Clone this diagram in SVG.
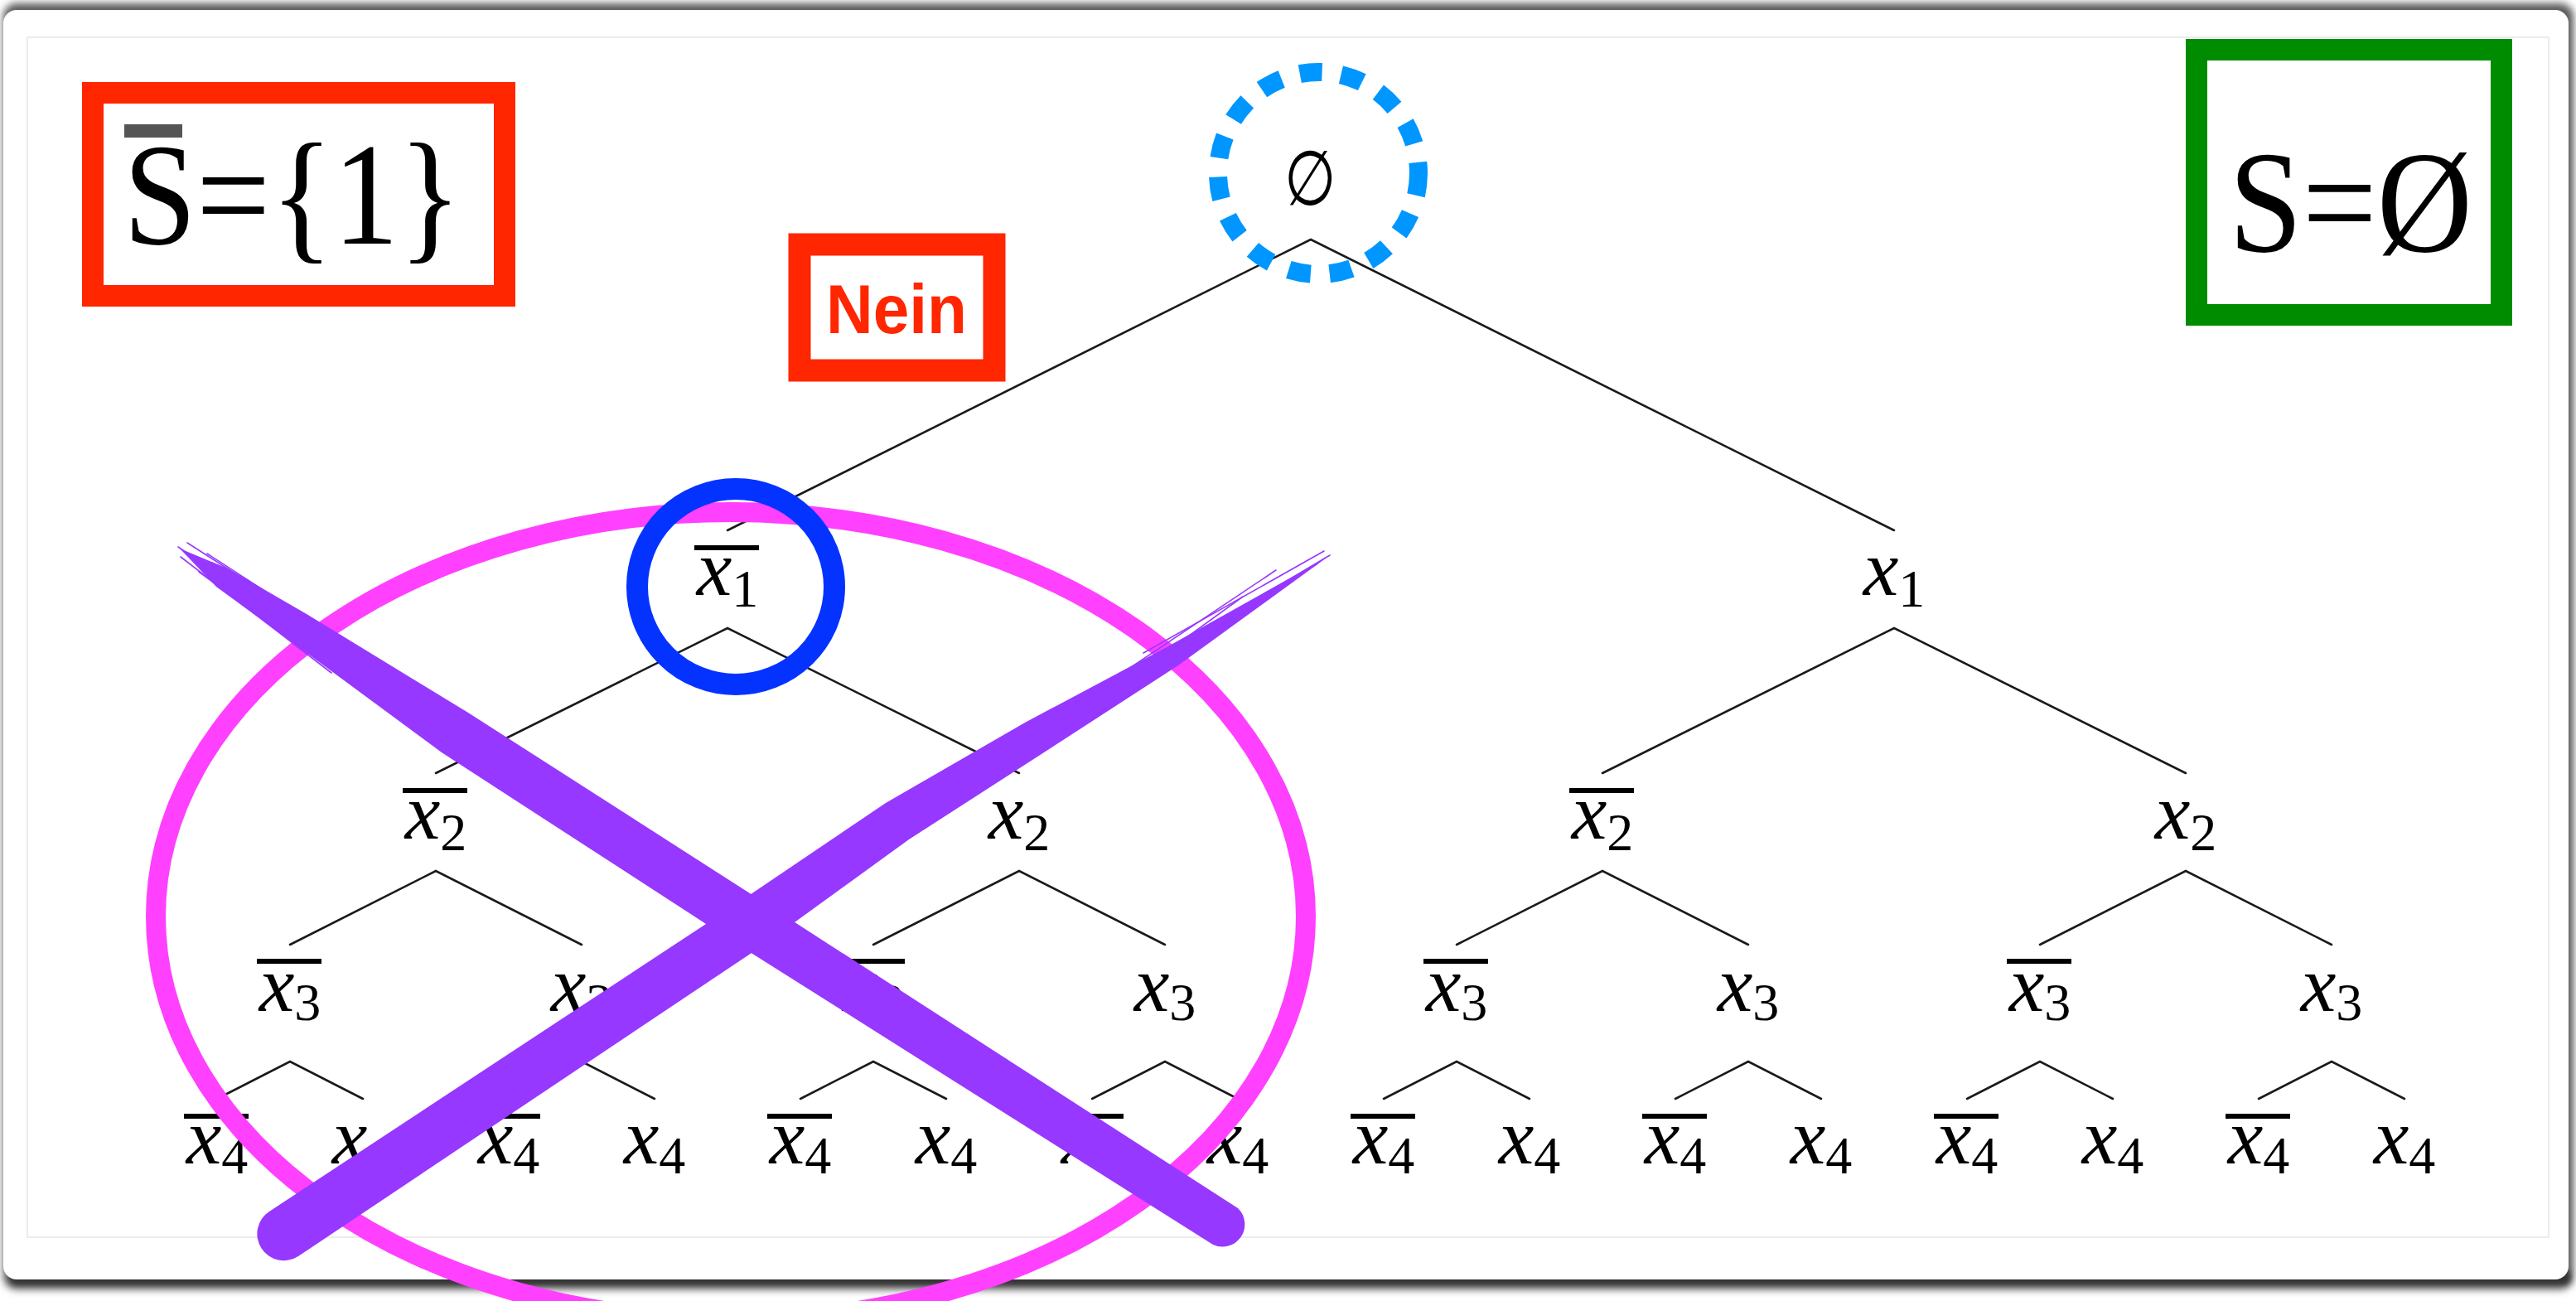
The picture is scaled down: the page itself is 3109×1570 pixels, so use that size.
<svg xmlns="http://www.w3.org/2000/svg" width="3109" height="1570" viewBox="0 0 3109 1570">
<defs>
<filter id="blur" x="-5%" y="-5%" width="110%" height="110%"><feGaussianBlur stdDeviation="5"/></filter>
<filter id="blur2" x="-5%" y="-50%" width="110%" height="200%"><feGaussianBlur stdDeviation="3"/></filter>
<style>
.ln{stroke:#1a1a1a;stroke-width:2.6;fill:none;stroke-linecap:round}
.lbl{font-family:"Liberation Serif","Times New Roman",serif;font-size:96px;fill:#000}
.it{font-style:italic}
.sub{font-size:64px;font-style:normal}
.bar{fill:#000}
.big{font-family:"Liberation Serif","Times New Roman",serif;font-size:176px;fill:#000}
.purple{fill:#9638FF}
.hair{stroke:#9638FF;fill:none;stroke-linecap:round}
</style>
</defs>
<rect width="3109" height="1570" fill="#fff"/>
<!-- card shadow -->
<rect x="4" y="4" width="3102" height="1552" rx="16" fill="#5a5a5a" filter="url(#blur)"/>
<rect x="12" y="1532" width="3090" height="18" rx="8" fill="#333" filter="url(#blur2)"/>
<rect x="4" y="12" width="3096" height="1532" rx="16" fill="#fff"/>
<rect x="33" y="45" width="3043" height="1448" fill="#fff" stroke="#ececec" stroke-width="2"/>

<g id="connectors">
<path class="ln" d="M878,640 L1582,289 L2286,640"/>
<path class="ln" d="M526,933 L878,758 L1230,933"/>
<path class="ln" d="M1934,933 L2286,758 L2638,933"/>
<path class="ln" d="M350,1140 L526,1051 L702,1140"/>
<path class="ln" d="M1054,1140 L1230,1051 L1406,1140"/>
<path class="ln" d="M1758,1140 L1934,1051 L2110,1140"/>
<path class="ln" d="M2462,1140 L2638,1051 L2814,1140"/>
<path class="ln" d="M262,1326 L350,1281 L438,1326"/>
<path class="ln" d="M614,1326 L702,1281 L790,1326"/>
<path class="ln" d="M966,1326 L1054,1281 L1142,1326"/>
<path class="ln" d="M1318,1326 L1406,1281 L1494,1326"/>
<path class="ln" d="M1670,1326 L1758,1281 L1846,1326"/>
<path class="ln" d="M2022,1326 L2110,1281 L2198,1326"/>
<path class="ln" d="M2374,1326 L2462,1281 L2550,1326"/>
<path class="ln" d="M2726,1326 L2814,1281 L2902,1326"/>
</g>

<g id="root">
<text transform="translate(1581,247) scale(0.78,1)" text-anchor="middle" style="font-family:'DejaVu Serif',serif;font-size:92px;fill:#000">∅</text>
</g>

<g id="n1a"><rect class="bar" x="838" y="658" width="78" height="6"/><text class="lbl" x="878" y="718" text-anchor="middle"><tspan class="it">x</tspan><tspan class="sub" dy="14">1</tspan></text></g>
<g id="n1b"><text class="lbl" x="2286" y="718" text-anchor="middle"><tspan class="it">x</tspan><tspan class="sub" dy="14">1</tspan></text></g>

<g id="n2a"><rect class="bar" x="486" y="951" width="78" height="6"/><text class="lbl" x="526" y="1012" text-anchor="middle"><tspan class="it">x</tspan><tspan class="sub" dy="14">2</tspan></text></g>
<g id="n2b"><text class="lbl" x="1230" y="1012" text-anchor="middle"><tspan class="it">x</tspan><tspan class="sub" dy="14">2</tspan></text></g>
<g id="n2c"><rect class="bar" x="1894" y="951" width="78" height="6"/><text class="lbl" x="1934" y="1012" text-anchor="middle"><tspan class="it">x</tspan><tspan class="sub" dy="14">2</tspan></text></g>
<g id="n2d"><text class="lbl" x="2638" y="1012" text-anchor="middle"><tspan class="it">x</tspan><tspan class="sub" dy="14">2</tspan></text></g>

<g id="n3a"><rect class="bar" x="310" y="1157" width="78" height="6"/><text class="lbl" x="350" y="1220" text-anchor="middle"><tspan class="it">x</tspan><tspan class="sub" dy="11">3</tspan></text></g>
<g id="n3b"><text class="lbl" x="702" y="1220" text-anchor="middle"><tspan class="it">x</tspan><tspan class="sub" dy="11">3</tspan></text></g>
<g id="n3c"><rect class="bar" x="1014" y="1157" width="78" height="6"/><text class="lbl" x="1054" y="1220" text-anchor="middle"><tspan class="it">x</tspan><tspan class="sub" dy="11">3</tspan></text></g>
<g id="n3d"><text class="lbl" x="1406" y="1220" text-anchor="middle"><tspan class="it">x</tspan><tspan class="sub" dy="11">3</tspan></text></g>
<g id="n3e"><rect class="bar" x="1718" y="1157" width="78" height="6"/><text class="lbl" x="1758" y="1220" text-anchor="middle"><tspan class="it">x</tspan><tspan class="sub" dy="11">3</tspan></text></g>
<g id="n3f"><text class="lbl" x="2110" y="1220" text-anchor="middle"><tspan class="it">x</tspan><tspan class="sub" dy="11">3</tspan></text></g>
<g id="n3g"><rect class="bar" x="2422" y="1157" width="78" height="6"/><text class="lbl" x="2462" y="1220" text-anchor="middle"><tspan class="it">x</tspan><tspan class="sub" dy="11">3</tspan></text></g>
<g id="n3h"><text class="lbl" x="2814" y="1220" text-anchor="middle"><tspan class="it">x</tspan><tspan class="sub" dy="11">3</tspan></text></g>

<g id="n4a"><rect class="bar" x="222" y="1344" width="78" height="6"/><text class="lbl" x="262" y="1404" text-anchor="middle"><tspan class="it">x</tspan><tspan class="sub" dy="12">4</tspan></text></g>
<g id="n4b"><text class="lbl" x="438" y="1404" text-anchor="middle"><tspan class="it">x</tspan><tspan class="sub" dy="12">4</tspan></text></g>
<g id="n4c"><rect class="bar" x="574" y="1344" width="78" height="6"/><text class="lbl" x="614" y="1404" text-anchor="middle"><tspan class="it">x</tspan><tspan class="sub" dy="12">4</tspan></text></g>
<g id="n4d"><text class="lbl" x="790" y="1404" text-anchor="middle"><tspan class="it">x</tspan><tspan class="sub" dy="12">4</tspan></text></g>
<g id="n4e"><rect class="bar" x="926" y="1344" width="78" height="6"/><text class="lbl" x="966" y="1404" text-anchor="middle"><tspan class="it">x</tspan><tspan class="sub" dy="12">4</tspan></text></g>
<g id="n4f"><text class="lbl" x="1142" y="1404" text-anchor="middle"><tspan class="it">x</tspan><tspan class="sub" dy="12">4</tspan></text></g>
<g id="n4g"><rect class="bar" x="1278" y="1344" width="78" height="6"/><text class="lbl" x="1318" y="1404" text-anchor="middle"><tspan class="it">x</tspan><tspan class="sub" dy="12">4</tspan></text></g>
<g id="n4h"><text class="lbl" x="1494" y="1404" text-anchor="middle"><tspan class="it">x</tspan><tspan class="sub" dy="12">4</tspan></text></g>
<g id="n4i"><rect class="bar" x="1630" y="1344" width="78" height="6"/><text class="lbl" x="1670" y="1404" text-anchor="middle"><tspan class="it">x</tspan><tspan class="sub" dy="12">4</tspan></text></g>
<g id="n4j"><text class="lbl" x="1846" y="1404" text-anchor="middle"><tspan class="it">x</tspan><tspan class="sub" dy="12">4</tspan></text></g>
<g id="n4k"><rect class="bar" x="1982" y="1344" width="78" height="6"/><text class="lbl" x="2022" y="1404" text-anchor="middle"><tspan class="it">x</tspan><tspan class="sub" dy="12">4</tspan></text></g>
<g id="n4l"><text class="lbl" x="2198" y="1404" text-anchor="middle"><tspan class="it">x</tspan><tspan class="sub" dy="12">4</tspan></text></g>
<g id="n4m"><rect class="bar" x="2334" y="1344" width="78" height="6"/><text class="lbl" x="2374" y="1404" text-anchor="middle"><tspan class="it">x</tspan><tspan class="sub" dy="12">4</tspan></text></g>
<g id="n4n"><text class="lbl" x="2550" y="1404" text-anchor="middle"><tspan class="it">x</tspan><tspan class="sub" dy="12">4</tspan></text></g>
<g id="n4o"><rect class="bar" x="2686" y="1344" width="78" height="6"/><text class="lbl" x="2726" y="1404" text-anchor="middle"><tspan class="it">x</tspan><tspan class="sub" dy="12">4</tspan></text></g>
<g id="n4p"><text class="lbl" x="2902" y="1404" text-anchor="middle"><tspan class="it">x</tspan><tspan class="sub" dy="12">4</tspan></text></g>

<g id="sbar-box">
<rect x="112" y="112" width="497" height="245" fill="#fff" stroke="#FF2600" stroke-width="26"/>
<rect x="150" y="150" width="70" height="16" fill="#555"/>
<text class="big" x="149" y="294" textLength="408" lengthAdjust="spacingAndGlyphs">S={1}</text>
</g>

<g id="nein-box">
<rect x="965" y="295" width="235" height="152" fill="#fff" stroke="#FF2600" stroke-width="27"/>
<text x="1082" y="402" text-anchor="middle" textLength="170" lengthAdjust="spacingAndGlyphs" style="font-family:'Liberation Sans',Arial,sans-serif;font-weight:bold;font-size:84px;fill:#FF2600">Nein</text>
</g>

<g id="s-box">
<rect x="2651" y="60" width="368" height="320" fill="#fff" stroke="#008C00" stroke-width="26"/>
<text class="big" x="2690" y="303" textLength="294" lengthAdjust="spacingAndGlyphs">S=Ø</text>
</g>

<g id="root-marker">
<ellipse cx="1591" cy="209" rx="121" ry="122" fill="none" stroke="#0096FF" stroke-width="22" stroke-dasharray="27 23"/>
</g>

<g id="cross-out">
<ellipse cx="882" cy="1106" rx="694" ry="488" fill="none" stroke="#FF40FF" stroke-width="24"/>
<ellipse cx="888" cy="708" rx="119" ry="118" fill="none" stroke="#0433FF" stroke-width="26"/>
<path class="purple" d="M217,662 L275,686 L370,741 L565,860 L919,1087 L1494,1458 A27 27 0 0 1 1464,1502 L886,1137 L533,908 L350,773 L261,708 Z"/>
<path class="purple" d="M325,1462 L887,1092 L1069,969 L1237,872 L1408,781 L1601,673 L1422,803 L1260,908 L1097,1013 L919,1142 L360,1516 A32 32 0 0 1 325,1462 Z"/>
<g class="hair" stroke-width="1.6">
<path d="M215,660 L420,800"/><path d="M218,672 L400,812"/><path d="M226,655 L440,792"/>
<path d="M240,690 L380,792"/><path d="M250,668 L500,830"/><path d="M330,745 L470,850"/>
<path d="M1605,670 L1400,792"/><path d="M1598,665 L1380,788"/><path d="M1590,680 L1360,830"/>
<path d="M1560,700 L1300,880"/><path d="M1540,688 L1280,862"/><path d="M1500,720 L1210,930"/>
</g>
</g>
</svg>
